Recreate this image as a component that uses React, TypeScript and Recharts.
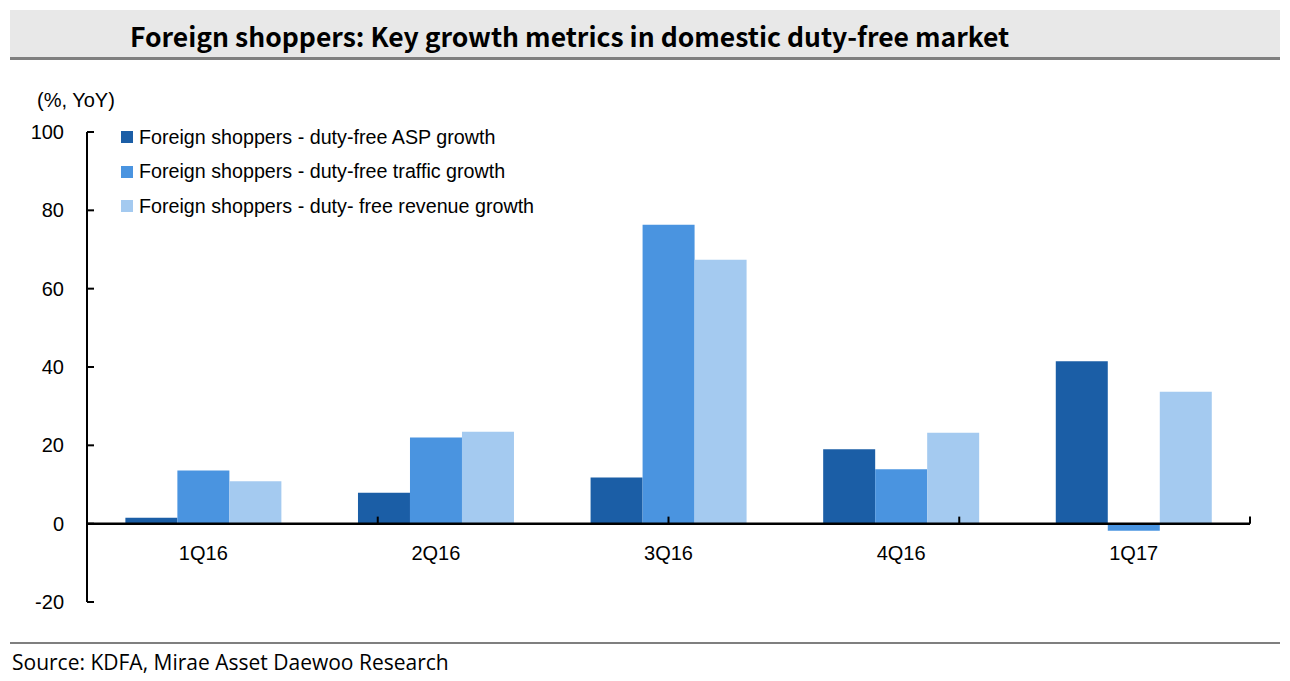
import React from "react";
import {
  BarChart,
  Bar,
  XAxis,
  YAxis,
  ReferenceLine,
} from "recharts";

const categories = ["1Q16", "2Q16", "3Q16", "4Q16", "1Q17"];
const aspGrowth = [1.5, 7.9, 11.8, 19.0, 41.5];
const trafficGrowth = [13.6, 22.0, 76.3, 13.9, -1.8];
const revenueGrowth = [10.8, 23.5, 67.4, 23.2, 33.7];
const seriesNames = [
  "Foreign shoppers - duty-free ASP growth",
  "Foreign shoppers - duty-free traffic growth",
  "Foreign shoppers - duty- free revenue growth",
];
const seriesColors = ["#1B5EA6", "#4A94E0", "#A4CAF0"];
const yTicks = [-20, 0, 20, 40, 60, 80, 100];
const boundaryPositions = [1, 2, 3, 4, 5];

const data = categories.map((c, i) => ({
  cat: c,
  asp: aspGrowth[i],
  traffic: trafficGrowth[i],
  revenue: revenueGrowth[i],
}));
const keys = ["asp", "traffic", "revenue"];

const AXIS_FONT = "'Liberation Sans', Arial, sans-serif";

const XTick = (props: any) => {
  const { x, y, payload } = props;
  return (
    <text
      x={x}
      y={y - 49}
      textAnchor="middle"
      dominantBaseline="central"
      fontFamily={AXIS_FONT}
      fontSize={20}
      fill="#000"
    >
      {payload.value}
    </text>
  );
};

export default function App() {
  return (
    <div
      style={{
        position: "absolute",
        left: 0,
        top: 0,
        width: 1290,
        height: 681,
        background: "#fff",
        overflow: "hidden",
      }}
    >
      <div
        style={{
          position: "absolute",
          left: 10,
          top: 10,
          width: 1270,
          height: 47,
          background: "#E8E8E8",
          borderBottom: "3px solid #7F7F7F",
        }}
      />
      <div
        style={{
          position: "absolute",
          left: 130,
          top: 14,
          fontFamily: "'Noto Sans CJK KR', 'Noto Sans', sans-serif",
          fontWeight: 700,
          fontSize: 26.5,
          lineHeight: "44px",
          color: "#000",
          whiteSpace: "nowrap",
        }}
      >
        Foreign shoppers: Key growth metrics in domestic duty-free market
      </div>
      <div
        style={{
          position: "absolute",
          left: 37,
          top: 88,
          fontFamily: AXIS_FONT,
          fontSize: 20,
          lineHeight: "24px",
          color: "#000",
        }}
      >
        (%, YoY)
      </div>
      <div style={{ position: "absolute", left: 0, top: 0 }}>
        <BarChart
          width={1290}
          height={681}
          data={data}
          margin={{ top: 132, right: 40, bottom: 49, left: 27 }}
          barCategoryGap="16.5%"
          barGap={0}
        >
          <XAxis
            dataKey="cat"
            axisLine={false}
            tickLine={false}
            tickSize={0}
            tickMargin={0}
            height={30}
            tick={<XTick />}
            interval={0}
          />
          <XAxis
            xAxisId="grid"
            type="number"
            domain={[0, 5]}
            allowDataOverflow
            hide
          />
          <YAxis
            domain={[-20, 100]}
            ticks={yTicks}
            width={60}
            axisLine={{ stroke: "#000", strokeWidth: 2 }}
            tickLine={{ stroke: "#000", strokeWidth: 2 }}
            tickSize={-7}
            tickMargin={30}
            tick={{ fontFamily: AXIS_FONT, fontSize: 20, fill: "#000" }}
            interval={0}
          />
          {keys.map((k, i) => (
            <Bar
              key={k}
              dataKey={k}
              name={seriesNames[i]}
              fill={seriesColors[i]}
              isAnimationActive={false}
            />
          ))}
          <ReferenceLine y={0} stroke="#000" strokeWidth={2.5} ifOverflow="extendDomain" />
          {boundaryPositions.map((b) => (
            <ReferenceLine
              key={b}
              xAxisId="grid"
              segment={[
                { x: b, y: 0 },
                { x: b, y: 1.8 },
              ]}
              stroke="#000"
              strokeWidth={2}
            />
          ))}
        </BarChart>
      </div>
      <div
        style={{
          position: "absolute",
          left: 121,
          top: 120,
          fontFamily: AXIS_FONT,
          fontSize: 19.7,
          color: "#000",
        }}
      >
        {seriesNames.map((n, i) => (
          <div
            key={n}
            style={{ display: "flex", alignItems: "center", height: 34.5, whiteSpace: "nowrap" }}
          >
            <span
              style={{
                display: "inline-block",
                width: 12,
                height: 12,
                background: seriesColors[i],
                marginRight: 6,
              }}
            />
            <span>{n}</span>
          </div>
        ))}
      </div>
      <div
        style={{
          position: "absolute",
          left: 10,
          top: 642,
          width: 1270,
          height: 2,
          background: "#7F7F7F",
        }}
      />
      <div
        style={{
          position: "absolute",
          left: 12,
          top: 647,
          fontFamily: "'Open Sans', 'Noto Sans', sans-serif",
          fontSize: 21,
          lineHeight: "30px",
          color: "#000",
          whiteSpace: "nowrap",
        }}
      >
        Source: KDFA, Mirae Asset Daewoo Research
      </div>
    </div>
  );
}
